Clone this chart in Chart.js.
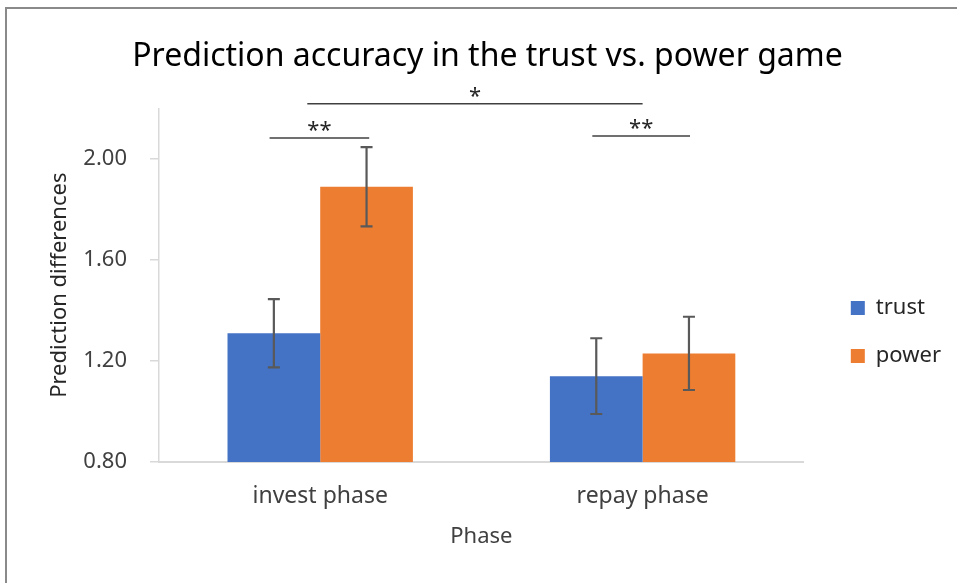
<!DOCTYPE html>
<html>
<head>
<meta charset="utf-8">
<script src="https://cdn.jsdelivr.net/npm/chart.js@4.4.0/dist/chart.umd.min.js"></script>
<style>
  html, body { margin: 0; padding: 0; background: #fff; overflow: hidden; }
  #frame { position: absolute; left: 5px; top: 7px; width: 950px; height: 574px;
           border-left: 2px solid #8a8a8a; border-top: 2px solid #8a8a8a; }
  canvas { display: block; }
</style>
</head>
<body>
<div id="frame"><canvas id="grafico" width="950" height="574"></canvas></div>
<script>
var phases = ["invest phase", "repay phase"];
var trustValues = [1.31, 1.14];
var powerValues = [1.89, 1.23];
var trustErrors = [0.135, 0.15];
var powerErrors = [0.157, 0.145];
var yTicks = [0.8, 1.2, 1.6, 2.0];

// significance brackets: x in category units, y in data units
var brackets = [
    { from: -0.157, to: 0.152, y: 2.083, label: "**" },
    { from: -0.04, to: 1.0, y: 2.218, label: "*" },
    { from: 0.844, to: 1.147, y: 2.091, label: "**" }
];

var fonte = "'Noto Sans', sans-serif";

var errorBars = {
    id: 'errorBars',
    afterDatasetsDraw: function (chart) {
        var c = chart.ctx;
        var y = chart.scales.y;
        var errs = [trustErrors, powerErrors];
        c.save();
        c.strokeStyle = '#595959';
        c.lineWidth = 2.2;
        chart.data.datasets.forEach(function (ds, i) {
            chart.getDatasetMeta(i).data.forEach(function (bar, j) {
                var v = ds.data[j];
                var top = y.getPixelForValue(v + errs[i][j]);
                var bot = y.getPixelForValue(v - errs[i][j]);
                c.beginPath();
                c.moveTo(bar.x, top); c.lineTo(bar.x, bot);
                c.moveTo(bar.x - 6, top); c.lineTo(bar.x + 6, top);
                c.moveTo(bar.x - 6, bot); c.lineTo(bar.x + 6, bot);
                c.stroke();
            });
        });
        c.restore();
    }
};

var sigLines = {
    id: 'sigLines',
    afterDraw: function (chart) {
        var c = chart.ctx;
        var x = chart.scales.x, y = chart.scales.y;
        c.save();
        c.strokeStyle = '#404040';
        c.lineWidth = 1.5;
        c.fillStyle = '#262626';
        c.font = "22px " + fonte;
        c.textAlign = 'center';
        c.textBaseline = 'bottom';
        brackets.forEach(function (b) {
            var x1 = x.getPixelForValue(b.from), x2 = x.getPixelForValue(b.to);
            var yy = y.getPixelForValue(b.y);
            c.beginPath();
            c.moveTo(x1, yy); c.lineTo(x2, yy);
            c.stroke();
            c.fillText(b.label, (x1 + x2) / 2, yy + 4);
        });
        c.restore();
    }
};

var boxShift = {
    id: 'boxShift',
    afterLayout: function (chart) {
        var l = chart.legend;
        l.left += 21; l.right += 21;
        l.top += 36; l.bottom += 36;
        var t = chart.titleBlock;
        t.left += 19; t.right += 19;
    }
};

var ctx = document.getElementById("grafico");

var myBarChart = new Chart(ctx, {
    type: 'bar',
    data: {
        labels: phases,
        datasets: [
            {
                label: 'trust',
                data: trustValues,
                backgroundColor: '#4472C4',
                categoryPercentage: 0.575,
                barPercentage: 1.0
            },
            {
                label: 'power',
                data: powerValues,
                backgroundColor: '#ED7D31',
                categoryPercentage: 0.575,
                barPercentage: 1.0
            }
        ]
    },
    options: {
        responsive: false,
        animation: false,
        layout: { padding: { right: 27 } },
        plugins: {
            title: {
                display: true,
                text: "Prediction accuracy in the trust vs. power game",
                color: '#000',
                font: { family: fonte, size: 32, weight: 'normal' },
                padding: { top: 29, bottom: 32 }
            },
            legend: {
                position: 'right',
                labels: {
                    color: '#262626',
                    font: { family: fonte, size: 22 },
                    boxWidth: 14,
                    boxHeight: 14,
                    padding: 26
                }
            },
            tooltip: { enabled: false }
        },
        scales: {
            x: {
                grid: { display: false, drawTicks: false },
                border: { color: '#d9d9d9', width: 2 },
                ticks: { color: '#404040', font: { family: fonte, size: 23 }, padding: 21 },
                title: {
                    display: true, text: 'Phase', color: '#404040',
                    font: { family: fonte, size: 22 }, padding: { top: 0, bottom: 33 }
                },
                afterFit: function (s) { s.height = 121; }
            },
            y: {
                min: 0.8,
                max: 2.2,
                grid: { drawOnChartArea: false, drawTicks: true, tickLength: 9, color: '#d9d9d9', lineWidth: 1.5 },
                border: { color: '#d9d9d9', width: 1.5 },
                ticks: {
                    color: '#404040',
                    font: { family: fonte, size: 22 },
                    padding: 23,
                    callback: function (v) { return v.toFixed(2); }
                },
                afterBuildTicks: function (s) {
                    s.ticks = yTicks.map(function (v) { return { value: v }; });
                },
                title: {
                    display: true, text: 'Prediction differences', color: '#262626',
                    font: { family: fonte, size: 22 }, padding: { top: 40, bottom: 0 }
                },
                afterFit: function (s) { s.width = 152; }
            }
        }
    },
    plugins: [errorBars, sigLines, boxShift]
});
</script>
</body>
</html>
